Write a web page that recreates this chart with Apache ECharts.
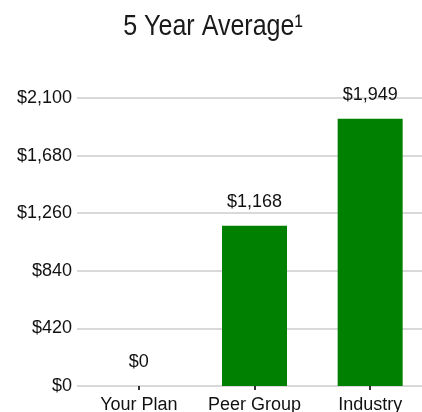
<!DOCTYPE html>
<html>
<head>
<meta charset="utf-8">
<script src="https://cdn.jsdelivr.net/npm/echarts@6/dist/echarts.min.js"></script>
<style>html,body{margin:0;padding:0;background:#fff}#c{width:422px;height:412px}</style>
</head>
<body>
<div id="c"></div>
<script>
const titleText = '5 Year Average\u00B9';
const categories = ['Your Plan', 'Peer Group', 'Industry'];
const values = [0, 1168, 1949];
const yTicks = [0, 420, 840, 1260, 1680, 2100];

function money(v) { return '$' + Math.round(v).toLocaleString('en-US'); }

const chart = echarts.init(document.getElementById('c'));
chart.setOption({
  animation: false,
  backgroundColor: '#fff',
  graphic: [{
    type: 'text', x: 213, y: 26.5, scaleX: 0.835,
    style: {
      text: titleText, font: '30px "Liberation Sans", Arial, sans-serif',
      fill: '#1a1a1a', textAlign: 'center', textVerticalAlign: 'middle'
    }
  }],
  grid: [
    { left: 77, right: 0, top: 98, bottom: 26, outerBoundsMode: 'none', containLabel: false },
    { left: 81, width: 347, top: 98, bottom: 26, outerBoundsMode: 'none', containLabel: false }
  ],
  xAxis: [
    { gridIndex: 0, type: 'category', data: categories, show: false },
    {
      gridIndex: 1, type: 'category', data: categories,
      axisLine: { show: false },
      axisTick: { show: true, alignWithLabel: true, length: 4, lineStyle: { color: '#333', width: 2 } },
      axisLabel: { interval: 0, fontFamily: 'Liberation Sans', fontSize: 18, color: '#111', margin: 10 }
    }
  ],
  yAxis: [
    {
      gridIndex: 0, type: 'value', min: yTicks[0], max: yTicks[yTicks.length - 1], interval: yTicks[1] - yTicks[0],
      axisLine: { show: false }, axisTick: { show: false },
      splitLine: { show: true, lineStyle: { color: '#d9d9d9', width: 2 } },
      axisLabel: { formatter: money, fontFamily: 'Liberation Sans', fontSize: 18, color: '#111', margin: 5 }
    },
    {
      gridIndex: 1, type: 'value', min: yTicks[0], max: yTicks[yTicks.length - 1], interval: yTicks[1] - yTicks[0],
      show: false, splitLine: { show: false }
    }
  ],
  series: [{
    type: 'bar', xAxisIndex: 1, yAxisIndex: 1, data: values, barWidth: 65,
    itemStyle: { color: '#008000' },
    label: {
      show: true, position: 'top', distance: 15, formatter: p => money(p.value),
      fontFamily: 'Liberation Sans', fontSize: 18, color: '#111'
    }
  }]
});
</script>
</body>
</html>
